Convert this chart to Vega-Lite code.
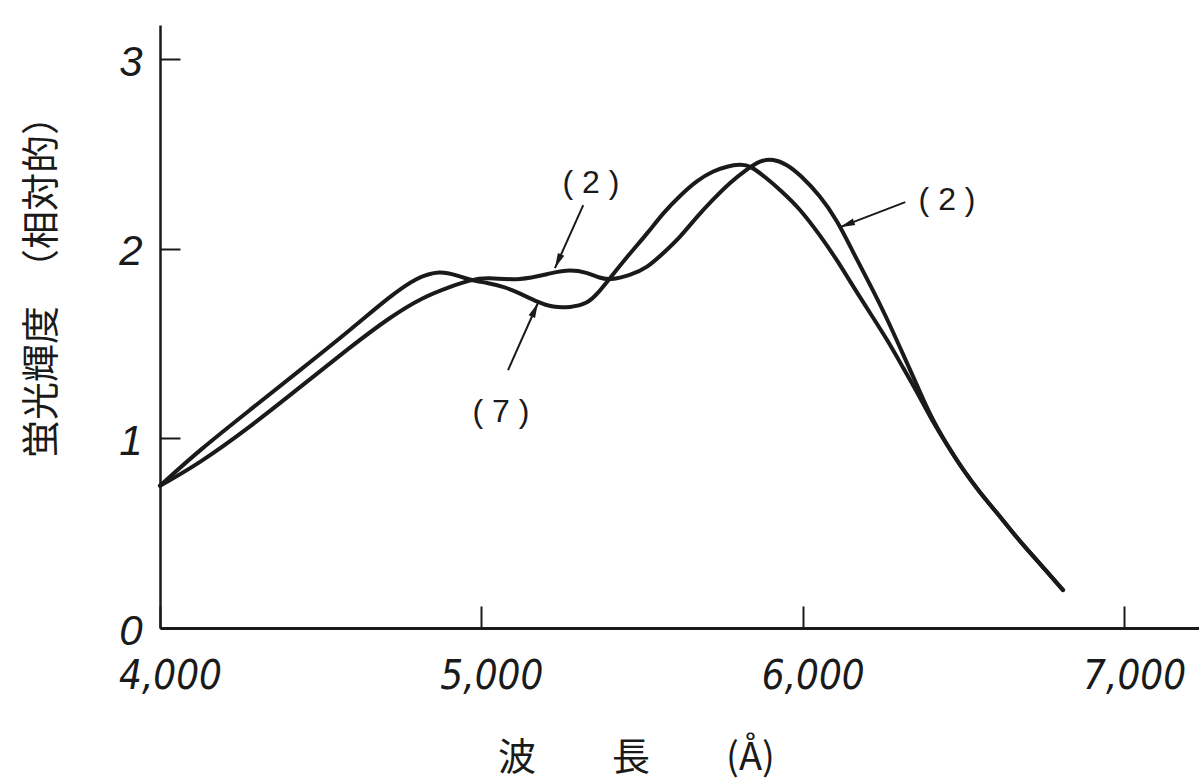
{
  "$schema": "https://vega.github.io/schema/vega-lite/v6.json",
  "width": 1039,
  "height": 603,
  "autosize": {"type": "none"},
  "padding": {"left": 160, "top": 25, "right": 0, "bottom": 153},
  "background": "#ffffff",
  "config": {
    "view": {"stroke": null},
    "axis": {"grid": false, "labelFlush": false, "labelOverlap": false, "domainColor": "#1a1a1a", "tickColor": "#1a1a1a", "labelColor": "#1a1a1a", "titleColor": "#1a1a1a"}
  },
  "datasets": {
    "curves": [
      {"series": "7", "wl": 4000, "v": 0.75},
      {"series": "7", "wl": 4124, "v": 0.94},
      {"series": "7", "wl": 4280, "v": 1.15},
      {"series": "7", "wl": 4436, "v": 1.36},
      {"series": "7", "wl": 4591, "v": 1.57},
      {"series": "7", "wl": 4716, "v": 1.75},
      {"series": "7", "wl": 4800, "v": 1.85},
      {"series": "7", "wl": 4871, "v": 1.885},
      {"series": "7", "wl": 4924, "v": 1.86},
      {"series": "7", "wl": 4965, "v": 1.835},
      {"series": "7", "wl": 5018, "v": 1.82},
      {"series": "7", "wl": 5070, "v": 1.80},
      {"series": "7", "wl": 5120, "v": 1.765},
      {"series": "7", "wl": 5173, "v": 1.72},
      {"series": "7", "wl": 5223, "v": 1.69},
      {"series": "7", "wl": 5276, "v": 1.69},
      {"series": "7", "wl": 5329, "v": 1.71},
      {"series": "7", "wl": 5360, "v": 1.76},
      {"series": "7", "wl": 5400, "v": 1.845},
      {"series": "7", "wl": 5463, "v": 1.977},
      {"series": "7", "wl": 5516, "v": 2.08},
      {"series": "7", "wl": 5566, "v": 2.19},
      {"series": "7", "wl": 5618, "v": 2.28},
      {"series": "7", "wl": 5671, "v": 2.36},
      {"series": "7", "wl": 5721, "v": 2.41},
      {"series": "7", "wl": 5765, "v": 2.435},
      {"series": "7", "wl": 5805, "v": 2.445},
      {"series": "7", "wl": 5836, "v": 2.44},
      {"series": "7", "wl": 5889, "v": 2.37},
      {"series": "7", "wl": 5930, "v": 2.31},
      {"series": "7", "wl": 5992, "v": 2.21},
      {"series": "7", "wl": 6054, "v": 2.07},
      {"series": "7", "wl": 6107, "v": 1.94},
      {"series": "7", "wl": 6157, "v": 1.80},
      {"series": "7", "wl": 6210, "v": 1.66},
      {"series": "7", "wl": 6263, "v": 1.52},
      {"series": "7", "wl": 6313, "v": 1.37},
      {"series": "7", "wl": 6357, "v": 1.24},
      {"series": "7", "wl": 6397, "v": 1.11},
      {"series": "7", "wl": 6449, "v": 0.965},
      {"series": "7", "wl": 6499, "v": 0.833},
      {"series": "7", "wl": 6552, "v": 0.712},
      {"series": "7", "wl": 6605, "v": 0.606},
      {"series": "7", "wl": 6655, "v": 0.50},
      {"series": "7", "wl": 6708, "v": 0.395},
      {"series": "7", "wl": 6761, "v": 0.295},
      {"series": "7", "wl": 6810, "v": 0.20},
      {"series": "2", "wl": 4000, "v": 0.75},
      {"series": "2", "wl": 4124, "v": 0.87},
      {"series": "2", "wl": 4280, "v": 1.06},
      {"series": "2", "wl": 4436, "v": 1.27},
      {"series": "2", "wl": 4591, "v": 1.48},
      {"series": "2", "wl": 4716, "v": 1.64},
      {"series": "2", "wl": 4818, "v": 1.745},
      {"series": "2", "wl": 4903, "v": 1.80},
      {"series": "2", "wl": 4965, "v": 1.835},
      {"series": "2", "wl": 5018, "v": 1.85},
      {"series": "2", "wl": 5120, "v": 1.83},
      {"series": "2", "wl": 5223, "v": 1.875},
      {"series": "2", "wl": 5276, "v": 1.89},
      {"series": "2", "wl": 5329, "v": 1.875},
      {"series": "2", "wl": 5369, "v": 1.845},
      {"series": "2", "wl": 5400, "v": 1.835},
      {"series": "2", "wl": 5463, "v": 1.86},
      {"series": "2", "wl": 5516, "v": 1.90},
      {"series": "2", "wl": 5566, "v": 1.977},
      {"series": "2", "wl": 5618, "v": 2.06},
      {"series": "2", "wl": 5671, "v": 2.17},
      {"series": "2", "wl": 5721, "v": 2.26},
      {"series": "2", "wl": 5774, "v": 2.35},
      {"series": "2", "wl": 5827, "v": 2.42},
      {"series": "2", "wl": 5867, "v": 2.465},
      {"series": "2", "wl": 5908, "v": 2.475},
      {"series": "2", "wl": 5951, "v": 2.445},
      {"series": "2", "wl": 5992, "v": 2.39},
      {"series": "2", "wl": 6054, "v": 2.28},
      {"series": "2", "wl": 6107, "v": 2.15},
      {"series": "2", "wl": 6157, "v": 1.98},
      {"series": "2", "wl": 6210, "v": 1.81},
      {"series": "2", "wl": 6263, "v": 1.63},
      {"series": "2", "wl": 6313, "v": 1.44},
      {"series": "2", "wl": 6357, "v": 1.275},
      {"series": "2", "wl": 6397, "v": 1.12},
      {"series": "2", "wl": 6449, "v": 0.965},
      {"series": "2", "wl": 6499, "v": 0.833},
      {"series": "2", "wl": 6552, "v": 0.712},
      {"series": "2", "wl": 6605, "v": 0.606},
      {"series": "2", "wl": 6655, "v": 0.50},
      {"series": "2", "wl": 6708, "v": 0.395},
      {"series": "2", "wl": 6761, "v": 0.295},
      {"series": "2", "wl": 6810, "v": 0.20}
    ],
    "arrows": [
      {"id": "a", "wl": 5317, "v": 2.230, "wl2": 5229, "v2": 1.898},
      {"id": "b", "wl": 5083, "v": 1.360, "wl2": 5176, "v2": 1.714},
      {"id": "c", "wl": 6319, "v": 2.246, "wl2": 6116, "v2": 2.114}
    ],
    "heads": [
      {"id": "a", "wl": 5229, "v": 1.898},
      {"id": "b", "wl": 5176, "v": 1.714},
      {"id": "c", "wl": 6116, "v": 2.114}
    ],
    "labels": [
      {"label": "( 2 )", "wl": 5341, "v": 2.346},
      {"label": "( 7 )", "wl": 5061, "v": 1.139},
      {"label": "( 2 )", "wl": 6449, "v": 2.257}
    ]
  },
  "encoding": {
    "x": {
      "field": "wl", "type": "quantitative",
      "scale": {"domain": [4000, 7233], "nice": false, "zero": false},
      "axis": {
        "values": [4000, 5000, 6000, 7000], "format": ",d",
        "title": "波　　長　　(Å)",
        "domainWidth": 3, "tickWidth": 2, "tickSize": -22,
        "labelFont": "DejaVu Sans Condensed, Liberation Sans", "labelFontSize": 40, "labelFontStyle": "italic",
        "labelPadding": 50, "labelOffset": 10, "labelAlign": "center", "labelBaseline": "top",
        "titleFont": "Noto Sans CJK JP", "titleFontSize": 38, "titleFontWeight": "normal",
        "titleX": 476, "titleY": 130, "titleAlign": "center", "titleBaseline": "middle"
      }
    },
    "y": {
      "field": "v", "type": "quantitative",
      "scale": {"domain": [0, 3.18], "nice": false, "zero": false},
      "axis": {
        "values": [0, 1, 2, 3],
        "title": "蛍光輝度　（相対的）",
        "domainWidth": 2.5, "tickWidth": 2, "tickSize": -20,
        "labelFont": "Liberation Sans", "labelFontSize": 42, "labelFontStyle": "italic",
        "labelPadding": 38, "labelOffset": 3, "labelAlign": "right", "labelBaseline": "middle",
        "titleFont": "Noto Sans CJK JP", "titleFontSize": 38, "titleFontWeight": "normal",
        "titleX": -118, "titleY": 252, "titleAngle": -90, "titleAlign": "center", "titleBaseline": "middle"
      }
    }
  },
  "layer": [
    {
      "data": {"name": "curves"},
      "mark": {"type": "line", "interpolate": "basis", "color": "#1a1a1a", "strokeWidth": 4, "strokeCap": "round"},
      "encoding": {"detail": {"field": "series", "type": "nominal"}}
    },
    {
      "data": {"name": "arrows"},
      "mark": {"type": "rule", "color": "#1a1a1a", "strokeWidth": 2},
      "encoding": {
        "x2": {"field": "wl2"},
        "y2": {"field": "v2"}
      }
    },
    {
      "data": {"name": "heads"},
      "transform": [{"filter": "datum.id === 'a'"}],
      "mark": {"type": "point", "shape": "M0,0L0.35,1.5L-0.35,1.5Z", "filled": true, "color": "#1a1a1a", "size": 400, "angle": 204, "opacity": 1},
      "encoding": {}
    },
    {
      "data": {"name": "heads"},
      "transform": [{"filter": "datum.id === 'b'"}],
      "mark": {"type": "point", "shape": "M0,0L0.35,1.5L-0.35,1.5Z", "filled": true, "color": "#1a1a1a", "size": 400, "angle": 24, "opacity": 1},
      "encoding": {}
    },
    {
      "data": {"name": "heads"},
      "transform": [{"filter": "datum.id === 'c'"}],
      "mark": {"type": "point", "shape": "M0,0L0.35,1.5L-0.35,1.5Z", "filled": true, "color": "#1a1a1a", "size": 400, "angle": 249, "opacity": 1},
      "encoding": {}
    },
    {
      "data": {"name": "labels"},
      "mark": {"type": "text", "font": "Liberation Sans", "fontSize": 32, "color": "#1a1a1a", "align": "center", "baseline": "middle"},
      "encoding": {"text": {"field": "label"}}
    }
  ]
}
